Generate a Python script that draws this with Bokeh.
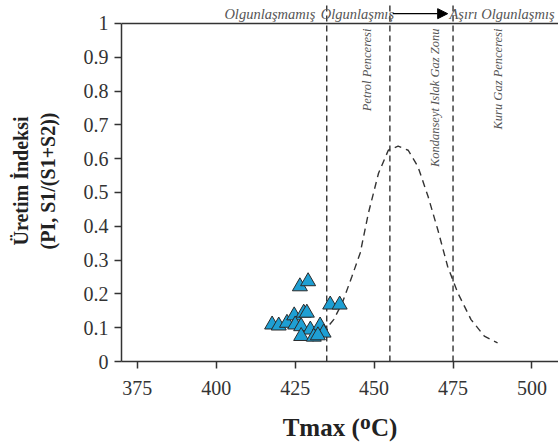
from bokeh.plotting import figure
from bokeh.models import Span, Label, Arrow, NormalHead, FixedTicker, Range1d
from bokeh.embed import file_html
from bokeh.resources import INLINE

# Sample data (Tmax, PI)
tmax = [417.7, 419.8, 422.4, 424.7, 427.7, 428.7, 425.0, 426.9, 429.8, 432.9,
        434.0, 426.9, 430.9, 432.2, 436.1, 439.1, 426.5, 429.1]
pi_vals = [0.109, 0.106, 0.114, 0.136, 0.144, 0.144, 0.109, 0.104, 0.094, 0.106,
           0.085, 0.075, 0.073, 0.077, 0.168, 0.168, 0.222, 0.237]

# Maturity curve (dashed)
curve_x = [430.5, 432.5, 434.6, 437.2, 439.9, 443.0, 445.6, 448.2, 451.4, 454.5,
           457.6, 460.8, 463.9, 467.1, 470.2, 473.3, 476.5, 480.7, 484.9, 489.1]
curve_y = [0.060, 0.075, 0.094, 0.124, 0.173, 0.252, 0.321, 0.439, 0.557, 0.625,
           0.637, 0.625, 0.576, 0.488, 0.389, 0.281, 0.203, 0.124, 0.075, 0.055]

# Boundary Tmax values
boundaries = [435, 455, 475]

x_ticks = [375, 400, 425, 450, 475, 500]
y_ticks = [0, 0.1, 0.2, 0.3, 0.4, 0.5, 0.6, 0.7, 0.8, 0.9, 1]

zone_labels = ["Petrol Penceresi", "Kondanseyt Islak Gaz Zonu", "Kuru Gaz Penceresi"]
zone_x = [447.7, 469.3, 489.3]

maturity_labels = ["Olgunlaşmamış", "Olgunlaşmış", "Aşırı Olgunlaşmış"]
maturity_x = [417.0, 444.7, 490.5]

SERIF = "Liberation Serif"
DARK = "#333333"
GREY = "#555555"

p = figure(width=558, height=443, output_backend="svg", toolbar_location=None,
           x_range=Range1d(370, 508.4), y_range=Range1d(0, 1.068),
           min_border_left=121, min_border_right=0, min_border_top=0,
           min_border_bottom=81)
p.outline_line_color = None
p.xgrid.visible = False
p.ygrid.visible = False
p.background_fill_color = "white"

for ax in (p.xaxis[0], p.yaxis[0]):
    ax.axis_line_color = DARK
    ax.axis_line_width = 1.5
    ax.major_tick_line_color = DARK
    ax.major_tick_line_width = 1.5
    ax.minor_tick_line_color = None
    ax.major_tick_in = 0
    ax.major_tick_out = 7
    ax.major_label_text_font = SERIF
    ax.major_label_text_font_size = "20px"
    ax.major_label_text_color = DARK
    ax.axis_label_text_font = SERIF
    ax.axis_label_text_font_style = "bold"
    ax.axis_label_text_color = "#222222"

p.xaxis[0].ticker = FixedTicker(ticks=x_ticks)
p.yaxis[0].ticker = FixedTicker(ticks=y_ticks)
p.yaxis[0].bounds = (0, 1)
p.yaxis[0].major_label_overrides = {0: "0", 1: "1"}
p.xaxis[0].major_label_standoff = 12
p.yaxis[0].major_label_standoff = 6

p.yaxis[0].axis_label = "Üretim İndeksi\n(PI, S1/(S1+S2))"
p.yaxis[0].axis_label_text_font_size = "20px"
p.yaxis[0].axis_label_standoff = 22
p.xaxis[0].axis_label = "Tmax (ᴼC)"
p.xaxis[0].axis_label_text_font_size = "25px"
p.xaxis[0].axis_label_standoff = 16

# top frame line
p.add_layout(Span(location=1, dimension="width", line_color=DARK, line_width=1.5))

# vertical boundaries
for b in boundaries:
    p.segment(x0=b, y0=0, x1=b, y1=1.058, line_color=DARK, line_width=1.4,
              line_dash="6 4")

# curve
p.line(curve_x, curve_y, line_color=DARK, line_width=1.4, line_dash="7 5")

# samples
p.scatter(tmax, pi_vals, marker="triangle", size=15, fill_color="#1E9FD3",
          line_color="#2a2a2a", line_width=1)

# zone labels (rotated)
for t, x in zip(zone_labels, zone_x):
    p.add_layout(Label(x=x, y=0.985, text=t, angle=1.5708, text_align="right",
                       text_baseline="middle", text_font=SERIF,
                       text_font_style="italic", text_font_size="12.5px",
                       text_color=GREY))

# top maturity labels
top_y = 1.029
for txt, x in zip(maturity_labels, maturity_x):
    p.add_layout(Label(x=x, y=top_y, text=txt, text_align="center",
                       text_baseline="middle", text_font=SERIF,
                       text_font_style="italic", text_font_size="14.5px",
                       text_color=GREY))
p.add_layout(Arrow(x_start=455.9, y_start=top_y, x_end=473.3, y_end=top_y,
                   line_color="black", line_width=1.3,
                   end=NormalHead(size=10, fill_color="black", line_color="black")))

open("out.html", "w").write(file_html(p, INLINE))
